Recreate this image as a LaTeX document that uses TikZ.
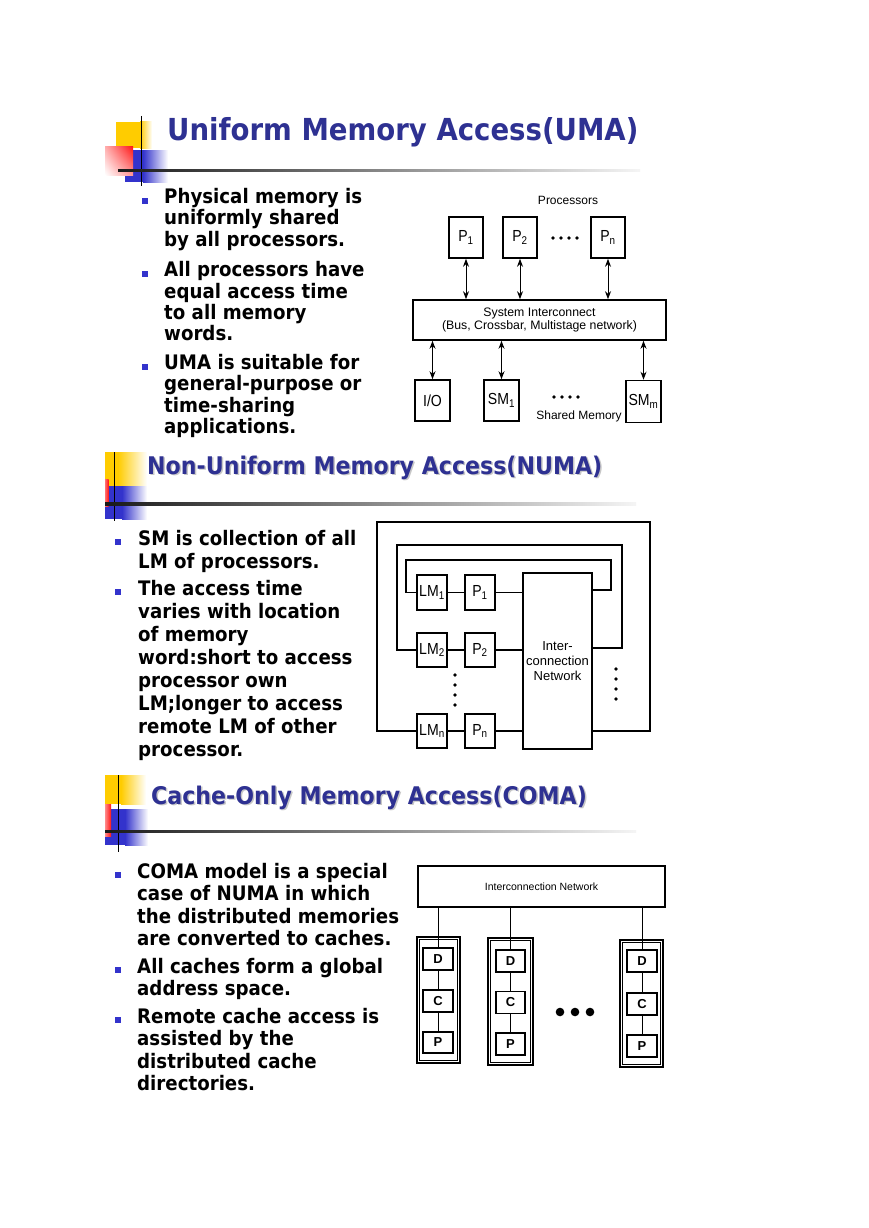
\documentclass[tikz,border=0pt]{standalone}
\usepackage{fontspec}
\usetikzlibrary{arrows.meta,shadings}
\newfontfamily\tah[FakeStretch=0.91]{DejaVu Sans}
\newfontfamily\arl{Liberation Sans}
\newfontfamily\arlc[FakeStretch=0.88]{Liberation Sans}
\definecolor{ttl}{RGB}{46,49,146}
\definecolor{bul}{RGB}{51,51,204}
\definecolor{lyel}{RGB}{255,204,0}
\definecolor{lblu}{RGB}{51,51,204}
\definecolor{lred}{RGB}{255,20,20}
\newcommand\fsz[2]{\fontsize{#1}{#2}\selectfont}
\newcommand\bulletlines[5]{\foreach \mytext [count=\i from 0] in {#5}{\node[btxt] (#1-\i) at (#2,#3+\i*#4) {\mytext};}}
\begin{document}
\begin{tikzpicture}[x=1pt,y=-1pt,
  btxt/.style={inner sep=0pt, anchor=base west, font=\tah\bfseries\fsz{20}{22}},
  ttlA/.style={inner sep=0pt, anchor=base west, text=ttl, font=\tah\bfseries\fsz{30.3}{34}},
  ttlB/.style={inner sep=0pt, anchor=base west, text=ttl, font=\tah\bfseries\fsz{24.3}{28}},
  shd/.style={text=black!22},
  lbl/.style={inner sep=0pt, font=\arl\fsz{12}{14}},
  bx/.style={draw, line width=1.6pt, inner sep=0pt, font=\arlc\fsz{16}{16}},
  ln/.style={line width=1.3pt},
  biarr/.style={line width=1pt, {Stealth[length=8pt,width=6pt]}-{Stealth[length=8pt,width=6pt]}},
  dbox/.style={draw, line width=1.3pt, inner sep=0pt, minimum width=30pt, minimum height=22pt, font=\arl\bfseries\fsz{13}{13}},
  obox/.style={draw, line width=1.9pt, inner sep=0pt}
]
\useasboundingbox (0,0) rectangle (869,1228);
\fill[white] (0,0) rectangle (869,1228);

% ---------- UMA header ----------
\fill[lyel] (116,122) rectangle (140,148);
\shade[left color=lyel, right color=white] (140,122) rectangle (152,148);
\fill[lblu] (125,150) rectangle (143,182);
\shade[left color=lblu, right color=white] (143,150) rectangle (168,182);
\shade[upper left=lred!35, upper right=lred, lower left=white, lower right=lred!45] (105,146) rectangle (133,175);
\draw[line width=1pt] (141,116) -- (141,186);
\shade[left color=black!90, right color=black!4] (118,169) rectangle (640,171.5);
\node[ttlA] (umatitle) at (167,140) {Uniform Memory Access(UMA)};

% UMA bullets
\fill[bul] (142,197.5) rectangle (148,203.5);
\fill[bul] (142,271) rectangle (148,277);
\fill[bul] (142,363.5) rectangle (148,369.5);
\bulletlines{ua}{164}{203.3}{21.6}{Physical memory is,uniformly shared,by all processors.}
\bulletlines{ub}{164}{276.7}{21.3}{All processors have,equal access time,to all memory,words.}
\bulletlines{uc}{164}{369.3}{21.4}{UMA is suitable for,general-purpose or,time-sharing,applications.}

% UMA diagram
\node[lbl] (procs) at (568,200) {Processors};
\node[bx, minimum width=34pt, minimum height=41pt] (P1) at (466,237.5) {P\textsubscript{1}};
\node[bx, minimum width=34pt, minimum height=41pt] (P2) at (520,237.5) {P\textsubscript{2}};
\node[bx, minimum width=34pt, minimum height=41pt] (Pn) at (608,237.5) {P\textsubscript{n}};
\foreach \xx in {553,561,569,577} \fill (\xx,238) circle (1.8pt);
\node[draw, line width=1.6pt, minimum width=253pt, minimum height=40pt, inner sep=0pt, align=center, font=\arl\fsz{12.3}{13.5}] (si) at (539.5,320) {System Interconnect\\(Bus, Crossbar, Multistage network)};
\draw[biarr] (P1.south) -- (P1.south |- si.north);
\draw[biarr] (P2.south) -- (P2.south |- si.north);
\draw[biarr] (Pn.south) -- (Pn.south |- si.north);
\node[bx, minimum width=35pt, minimum height=41pt] (io) at (432.5,400.5) {I/O};
\node[bx, minimum width=35pt, minimum height=41pt] (sm1) at (501.5,400.5) {SM\textsubscript{1}};
\node[bx, minimum width=35pt, minimum height=42pt] (smm) at (643.5,401.5) {SM\textsubscript{m}};
\draw[biarr] (io.north) -- (io.north |- si.south);
\draw[biarr] (sm1.north) -- (sm1.north |- si.south);
\draw[biarr] (smm.north) -- (smm.north |- si.south);
\foreach \xx in {554,562,570,578} \fill (\xx,397) circle (1.8pt);
\node[lbl] (shm) at (579,416) {Shared Memory};

% ---------- NUMA header ----------
\fill[lyel] (105,452) rectangle (118,486);
\shade[left color=lyel, right color=white] (118,452) rectangle (147,486);
\fill[lblu] (105,486) rectangle (122,519);
\shade[left color=lblu, right color=white] (122,486) rectangle (147,519);
\shade[left color=lred!60, right color=lred] (105,479) rectangle (108.5,506);
\draw[line width=1pt] (114,452) -- (114,521);
\shade[left color=black!90, right color=black!4] (105,502.5) rectangle (636,505);
\node[ttlB, shd] (numashadow) at (148.5,475.5) {Non-Uniform Memory Access(NUMA)};
\node[ttlB] (numatitle) at (147,474) {Non-Uniform Memory Access(NUMA)};

% NUMA bullets
\fill[bul] (115,539) rectangle (121,545);
\fill[bul] (115,589) rectangle (121,595);
\bulletlines{na}{138}{545}{23}{SM is collection of all,LM of processors.}
\bulletlines{nb}{138}{595}{23}{The access time,varies with location,of memory,word:short to access,processor own,LM;longer to access,remote LM of other,processor.}

% NUMA diagram
\node[bx, minimum width=30pt, minimum height=35pt] (lm1) at (432,592.5) {LM\textsubscript{1}};
\node[bx, minimum width=30pt, minimum height=35pt] (np1) at (480,592.5) {P\textsubscript{1}};
\node[bx, minimum width=30pt, minimum height=34pt] (lm2) at (432,650) {LM\textsubscript{2}};
\node[bx, minimum width=30pt, minimum height=34pt] (np2) at (480,650) {P\textsubscript{2}};
\node[bx, minimum width=30pt, minimum height=34pt] (lmn) at (432,731) {LM\textsubscript{n}};
\node[bx, minimum width=30pt, minimum height=34pt] (npn) at (480,731) {P\textsubscript{n}};
\node[draw, line width=1.6pt, minimum width=69pt, minimum height=176pt, inner sep=0pt, align=center, font=\arl\fsz{13}{15}] (net) at (557.5,661) {Inter-\\connection\\Network};
\draw[ln] (lm1.east) -- (np1.west);
\draw[ln] (lm2.east) -- (np2.west);
\draw[ln] (lmn.east) -- (npn.west);
\draw[ln] (np1.east) -- (np1.east -| net.west);
\draw[ln] (np2.east) -- (np2.east -| net.west);
\draw[ln] (npn.east) -- (npn.east -| net.west);
\coordinate (r3) at (611,590);
\coordinate (r2) at (622,648);
\coordinate (r1) at (650,731);
\draw[ln] (lm1.west) -| (406,560) -| (r3) -- (r3 -| net.east);
\draw[ln] (lm2.west) -| (397,545) -| (r2) -- (r2 -| net.east);
\draw[ln] (lmn.west) -| (377,522) -| (r1) -- (r1 -| net.east);
\foreach \yy in {675,685,695,705} \fill (455,\yy) circle (1.9pt);
\foreach \yy in {669,679,689,699} \fill (616,\yy) circle (1.9pt);

% ---------- COMA header ----------
\fill[lyel] (105,775) rectangle (121,804);
\shade[left color=lyel, right color=white] (121,775) rectangle (146,804);
\fill[lblu] (105,809) rectangle (125,845);
\shade[left color=lblu, right color=white] (125,809) rectangle (148,845);
\shade[left color=lred!50, right color=lred] (105,804) rectangle (111,836);
\draw[line width=1pt] (118,775) -- (118,852);
\shade[left color=black!90, right color=black!4] (105,830) rectangle (636,832.5);
\node[ttlB, shd] (comashadow) at (152.5,805.5) {Cache-Only Memory Access(COMA)};
\node[ttlB] (comatitle) at (151,804) {Cache-Only Memory Access(COMA)};

% COMA bullets
\fill[bul] (115,872) rectangle (121,878);
\fill[bul] (115,967) rectangle (121,973);
\fill[bul] (115,1017) rectangle (121,1023);
\bulletlines{ca}{137}{878}{22.5}{COMA model is a special,case of NUMA in which,the distributed memories,are converted to caches.}
\bulletlines{cb}{137}{973}{22.5}{All caches form a global,address space.}
\bulletlines{cc}{137}{1023}{22.5}{Remote cache access is,assisted by the,distributed cache,directories.}

% COMA diagram
\node[draw, line width=1.5pt, minimum width=247pt, minimum height=41pt, inner sep=0pt, font=\arl\fsz{10.5}{12}] (cnet) at (541.5,886.5) {Interconnection Network};
\node[obox, minimum width=43pt, minimum height=126pt] (ob1) at (438.5,1000) {};
\node[obox, minimum width=45pt, minimum height=127pt] (ob2) at (510.5,1001.5) {};
\node[obox, minimum width=43pt, minimum height=127pt] (ob3) at (641.5,1003.5) {};
\foreach \b in {ob1,ob2,ob3}
  \draw[line width=0.8pt] ([shift={(3.2,3.2)}]\b.north west) rectangle ([shift={(-3.2,-3.2)}]\b.south east);
\node[dbox] (d1) at (438,959) {D};
\node[dbox] (c1) at (438,1001) {C};
\node[dbox, minimum height=21pt] (pp1) at (438,1042.5) {P};
\node[dbox, minimum width=29pt] (d2) at (510.5,961) {D};
\node[dbox, minimum width=29pt] (c2) at (510.5,1002.5) {C};
\node[dbox, minimum width=29pt] (pp2) at (510.5,1044) {P};
\node[dbox] (d3) at (642,961) {D};
\node[dbox] (c3) at (642,1004) {C};
\node[dbox] (pp3) at (642,1046) {P};
\foreach \k in {1,2,3}{
  \draw[line width=1pt] (d\k.north) -- (d\k.north |- cnet.south);
  \draw[line width=1pt] (d\k.south) -- (c\k.north);
  \draw[line width=1pt] (c\k.south) -- (pp\k.north);
}
\foreach \xx in {560,575,590} \fill (\xx,1012) circle (4.3pt);
\end{tikzpicture}
\end{document}
